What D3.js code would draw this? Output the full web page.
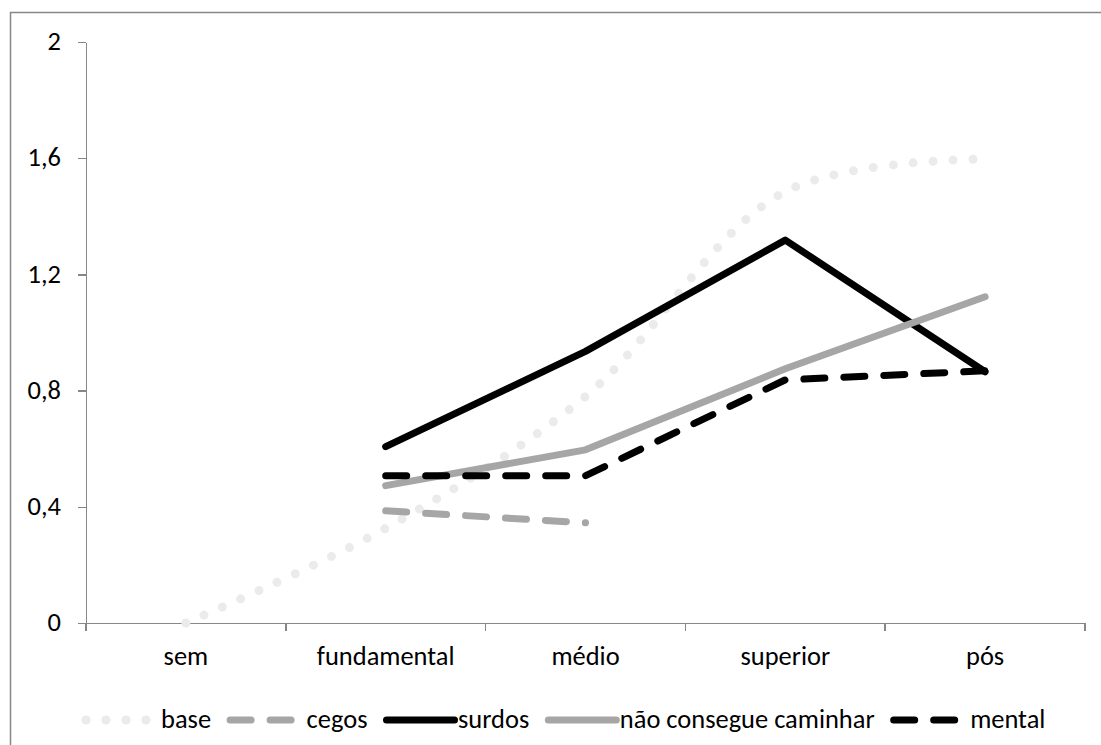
<!DOCTYPE html>
<html>
<head>
<meta charset="utf-8">
<script src="https://cdn.jsdelivr.net/npm/d3@7"></script>
<style>
  html, body { margin: 0; padding: 0; background: #fff; }
  svg { display: block; }
  text { font-family: Carlito, Calibri, Lato, sans-serif; fill: #000; }
</style>
</head>
<body>
<svg id="chart" width="1101" height="745"></svg>
<script>
// Education levels on the category axis
const categories = ["sem", "fundamental", "médio", "superior", "pós"];

// Series values per level (null = no value)
const base        = [0, 0.326, 0.78, 1.485, 1.597];
const cegos       = [null, 0.386, 0.345, null, null];
const surdos      = [null, 0.607, 0.935, 1.318, 0.865];
const naoCaminhar = [null, 0.473, 0.596, 0.875, 1.123];
const mental      = [null, 0.507, 0.507, 0.837, 0.868];

const seriesNames = ["base", "cegos", "surdos", "não consegue caminhar", "mental"];
const yTickValues = [0, 0.4, 0.8, 1.2, 1.6, 2];

const seriesData = [base, cegos, surdos, naoCaminhar, mental];

// Visual style per series
const styles = [
  { color: "#ebebeb", width: 9, dash: "0,20",  curve: d3.curveCatmullRom },
  { color: "#a6a6a6", width: 7, dash: "21,19", curve: d3.curveLinear },
  { color: "#000000", width: 7, dash: null,    curve: d3.curveLinear },
  { color: "#a6a6a6", width: 7, dash: null,    curve: d3.curveLinear },
  { color: "#000000", width: 7, dash: "21,19", curve: d3.curveLinear }
];

const svg = d3.select("#chart");
const axisColor = "#878787";

// Outer chart frame
svg.append("rect")
  .attr("x", 10.5).attr("y", 12.5)
  .attr("width", 1300).attr("height", 1000)
  .attr("fill", "none").attr("stroke", axisColor).attr("stroke-width", 1.5);

// Size the font so the longest legend label takes its expected width
const probe = svg.append("text").attr("font-size", 100).text("não consegue caminhar");
const fontSize = 100 * 255 / probe.node().getComputedTextLength();
probe.remove();

const plot = { left: 86, right: 1085, top: 42, bottom: 623 };

const x = d3.scaleBand().domain(categories).range([plot.left, plot.right]);
const y = d3.scaleLinear().domain([0, 2]).range([plot.bottom, plot.top]);
const cx = c => x(c) + x.bandwidth() / 2;

const ptBR = d3.formatLocale({ decimal: ",", thousands: ".", grouping: [3], currency: ["R$", ""] });
const fmt = ptBR.format(".1~f");

// Y axis
const yAxis = svg.append("g")
  .attr("transform", `translate(${plot.left},0)`)
  .call(d3.axisLeft(y).tickValues(yTickValues).tickFormat(fmt).tickSize(8).tickSizeOuter(0).tickPadding(17));
yAxis.select(".domain").attr("stroke", axisColor).attr("stroke-width", 1.5);
yAxis.selectAll(".tick line").attr("stroke", axisColor).attr("stroke-width", 1.5);
yAxis.selectAll(".tick text")
  .attr("font-size", fontSize)
  .attr("font-family", null)
  .attr("fill", "#000")
  .attr("dy", "0.29em");

// X axis: labels centred in each band, ticks on band boundaries
const xAxis = svg.append("g")
  .attr("transform", `translate(0,${plot.bottom})`)
  .call(d3.axisBottom(x).tickSize(0).tickSizeOuter(0).tickPadding(31));
xAxis.select(".domain").attr("stroke", axisColor).attr("stroke-width", 1.5);
xAxis.selectAll(".tick text")
  .attr("font-size", fontSize)
  .attr("font-family", null)
  .attr("fill", "#000")
  .attr("dy", "0.4em");
const boundaries = categories.map(c => x(c)).concat([x.range()[1]]);
xAxis.selectAll(".bound")
  .data(boundaries)
  .join("line")
  .attr("class", "bound")
  .attr("x1", d => d).attr("x2", d => d)
  .attr("y1", 0).attr("y2", 8)
  .attr("stroke", axisColor).attr("stroke-width", 1.5);
svg.selectAll(".domain, .tick line, .bound").attr("shape-rendering", "crispEdges");

// Series lines
const lines = svg.append("g");
seriesData.forEach((vals, i) => {
  const st = styles[i];
  const pts = categories.map((c, j) => ({ c, v: vals[j] }));
  const line = d3.line()
    .defined(d => d.v !== null)
    .x(d => cx(d.c))
    .y(d => y(d.v))
    .curve(st.curve);
  lines.append("path")
    .datum(pts.filter(d => d.v !== null))
    .attr("d", line)
    .attr("fill", "none")
    .attr("stroke", st.color)
    .attr("stroke-width", st.width)
    .attr("stroke-linecap", "round")
    .attr("stroke-linejoin", "round")
    .attr("stroke-dasharray", st.dash);
});

// Legend
const legend = svg.append("g");
const legendY = 720;
const symbolLen = 68;
const textGap = [7, 8.5, 3.5, 3.5, 8.5];
let cursor = 86;
seriesNames.forEach((name, i) => {
  const st = styles[i];
  legend.append("line")
    .attr("x1", cursor).attr("x2", cursor + symbolLen)
    .attr("y1", legendY).attr("y2", legendY)
    .attr("stroke", st.color)
    .attr("stroke-width", st.width)
    .attr("stroke-linecap", "round")
    .attr("stroke-dasharray", st.dash);
  const t = legend.append("text")
    .attr("x", cursor + symbolLen + textGap[i])
    .attr("y", 728)
    .attr("font-size", fontSize)
    .text(name);
  cursor = cursor + symbolLen + textGap[i] + t.node().getComputedTextLength() + 19;
});
</script>
</body>
</html>
